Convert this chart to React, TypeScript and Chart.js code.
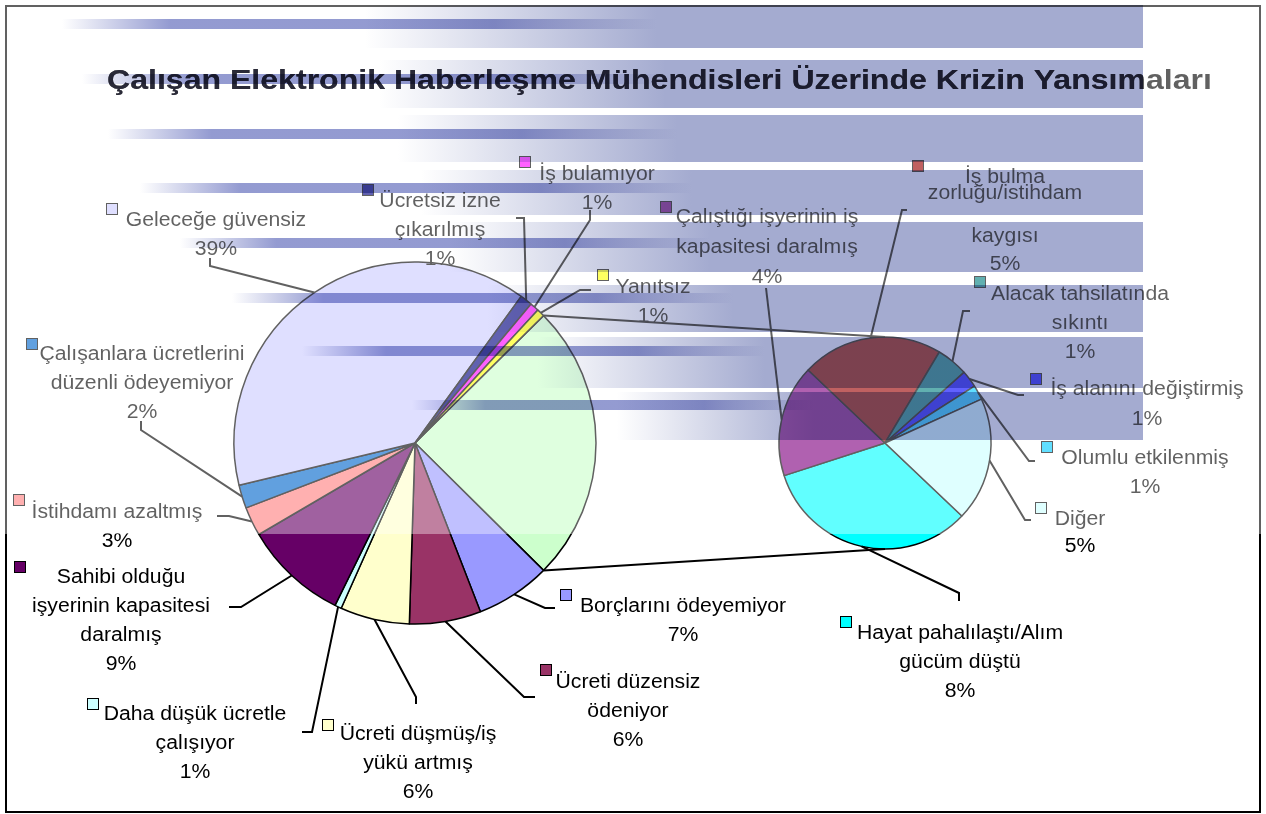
import React, { useEffect, useRef } from "react";
import { Chart, registerables } from "chart.js";

Chart.register(...registerables);

// ---------------- DATA ----------------
const TITLE = "Çalışan Elektronik Haberleşme Mühendisleri Üzerinde Krizin Yansımaları";

// main (left) pie, clockwise after the grouped slice
const mainCategories = [
  "Borçlarını ödeyemiyor",
  "Ücreti düzensiz ödeniyor",
  "Ücreti düşmüş/iş yükü artmış",
  "Daha düşük ücretle çalışıyor",
  "Sahibi olduğu işyerinin kapasitesi daralmış",
  "İstihdamı azaltmış",
  "Çalışanlara ücretlerini düzenli ödeyemiyor",
  "Geleceğe güvensiz",
  "Ücretsiz izne çıkarılmış",
  "İş bulamıyor",
  "Yanıtsız",
];
const mainValues = [6.7, 6.4, 6.2, 0.6, 9.3, 2.6, 2.1, 38.8, 1.1, 0.8, 0.7];

// secondary (right) pie, clockwise
const subCategories = [
  "Hayat pahalılaştı/Alım gücüm düştü",
  "Çalıştığı işyerinin iş kapasitesi daralmış",
  "İş bulma zorluğu/istihdam kaygısı",
  "Alacak tahsilatında sıkıntı",
  "İş alanını değiştirmiş",
  "Olumlu etkilenmiş",
  "Diğer",
];
const subValues = [8.2, 4.25, 5.35, 1.2, 0.65, 0.55, 4.7];

// ---------------- STYLE / LAYOUT ----------------
const groupColor = "#ccffcc";
const mainColors = [
  "#9999ff", "#993366", "#ffffcc", "#ccffff", "#660066", "#ff8080",
  "#0066cc", "#ccccff", "#000080", "#ff00ff", "#ffff00",
];
const subColors = ["#00ffff", "#800080", "#990000", "#008080", "#0000ff", "#00ccff", "#ccffff"];

const W = 1266;
const H = 814;
const BIG = { x: 415, y: 443, r: 181 };
const SMALL = { x: 885, y: 443, r: 106 };
const SMALL_ROTATION = 133.5;
const FONT = "20px 'Liberation Sans', Arial, sans-serif";
const SX = 1.06;
const OVERLAY_Y = 534;
const STRIPE_END = 1143;

type Lay = {
  lines: string[];
  cx: number;
  y0?: number;
  dy?: number;
  ys?: number[];
  key: [number, number];
  leader: [number, number][];
};

const mainLabels: Lay[] = [
  { lines: ["Borçlarını ödeyemiyor"], cx: 683, y0: 612, key: [560, 589], leader: [[545, 608], [555, 608]] },
  { lines: ["Ücreti düzensiz", "ödeniyor"], cx: 628, y0: 688, key: [540, 664], leader: [[524, 697], [535, 697]] },
  { lines: ["Ücreti düşmüş/iş", "yükü artmış"], cx: 418, y0: 740, key: [322, 719], leader: [[416, 697], [416, 704]] },
  { lines: ["Daha düşük ücretle", "çalışıyor"], cx: 195, y0: 720, key: [87, 698], leader: [[312, 732], [302, 732]] },
  { lines: ["Sahibi olduğu", "işyerinin kapasitesi", "daralmış"], cx: 121, y0: 583, key: [14, 561], leader: [[241, 607], [229, 607]] },
  { lines: ["İstihdamı azaltmış"], cx: 117, y0: 518, key: [13, 494], leader: [[229, 516], [217, 516]] },
  { lines: ["Çalışanlara ücretlerini", "düzenli ödeyemiyor"], cx: 142, y0: 360, key: [26, 338], leader: [[141, 430], [141, 421]] },
  { lines: ["Geleceğe güvensiz"], cx: 216, y0: 226, key: [106, 203], leader: [[210, 266], [210, 258]] },
  { lines: ["Ücretsiz izne", "çıkarılmış"], cx: 440, y0: 207, key: [362, 184], leader: [[524, 218], [516, 218]] },
  { lines: ["İş bulamıyor"], cx: 597, y0: 180, key: [519, 156], leader: [[590, 220], [590, 210]] },
  { lines: ["Yanıtsız"], cx: 653, y0: 293, key: [597, 269], leader: [[580, 290], [591, 290]] },
];

const subLabels: Lay[] = [
  { lines: ["Hayat pahalılaştı/Alım", "gücüm düştü"], cx: 960, y0: 639, key: [840, 616], leader: [[959, 593], [959, 601]] },
  { lines: ["Çalıştığı işyerinin iş", "kapasitesi daralmış"], cx: 767, y0: 223, dy: 30, key: [660, 201], leader: [[766, 288]] },
  { lines: ["İş bulma", "zorluğu/istihdam", "kaygısı"], cx: 1005, ys: [183, 199, 242, 270], key: [912, 160], leader: [[902, 210], [907, 210]] },
  { lines: ["Alacak tahsilatında", "sıkıntı"], cx: 1080, y0: 300, key: [974, 276], leader: [[963, 311], [970, 311]] },
  { lines: ["İş alanını değiştirmiş"], cx: 1147, y0: 395, dy: 30, key: [1030, 373], leader: [[1018, 395], [1024, 395]] },
  { lines: ["Olumlu etkilenmiş"], cx: 1145, y0: 464, key: [1041, 441], leader: [[1029, 461], [1035, 461]] },
  { lines: ["Diğer"], cx: 1080, y0: 525, dy: 27, key: [1035, 502], leader: [[1025, 520], [1031, 520]] },
];

// [yTop, yBottom, coreY, xStart]
const STRIPES: [number, number, number, number][] = [
  [5, 48, 24, 62],
  [60, 108, 79, 82],
  [115, 162, 134, 108],
  [170, 215, 188, 140],
  [222, 272, 243, 180],
  [285, 332, 298, 232],
  [337, 388, 351, 302],
  [392, 440, 405, 412],
];

const sum = (a: number[]) => a.reduce((s, v) => s + v, 0);

function drawText(ctx: CanvasRenderingContext2D, s: string, cx: number, y: number) {
  ctx.save();
  ctx.translate(cx, y);
  ctx.scale(SX, 1);
  ctx.font = FONT;
  ctx.textAlign = "center";
  ctx.textBaseline = "alphabetic";
  ctx.fillStyle = "#000";
  ctx.fillText(s, 0, 0);
  ctx.restore();
}

function drawLabel(ctx: CanvasRenderingContext2D, lay: Lay, pct: number, color: string, el: any) {
  const mid = (el.startAngle + el.endAngle) / 2;
  const sx = el.x + Math.cos(mid) * el.outerRadius;
  const sy = el.y + Math.sin(mid) * el.outerRadius;
  ctx.save();
  ctx.strokeStyle = "#000";
  ctx.lineWidth = 2;
  ctx.beginPath();
  ctx.moveTo(sx, sy);
  lay.leader.forEach(([x, y]) => ctx.lineTo(x, y));
  ctx.stroke();
  ctx.restore();

  const lines = [...lay.lines, pct + "%"];
  const dy = lay.dy ?? 29;
  const ys = lay.ys ?? lines.map((_, i) => (lay.y0 as number) + i * dy);
  lines.forEach((s, i) => drawText(ctx, s, lay.cx, ys[i]));

  ctx.save();
  ctx.fillStyle = color;
  ctx.fillRect(lay.key[0], lay.key[1], 11, 11);
  ctx.strokeStyle = "#000";
  ctx.lineWidth = 1;
  ctx.strokeRect(lay.key[0] + 0.5, lay.key[1] + 0.5, 11, 11);
  ctx.restore();
}

function drawTitle(ctx: CanvasRenderingContext2D, color: string) {
  ctx.save();
  ctx.font = "bold 28px 'Liberation Sans', Arial, sans-serif";
  const tw = ctx.measureText(TITLE).width;
  const left = 107, right = 1212;
  ctx.translate((left + right) / 2, 89);
  ctx.scale((right - left) / tw, 1);
  ctx.textAlign = "center";
  ctx.fillStyle = color;
  ctx.fillText(TITLE, 0, 0);
  ctx.restore();
}

const pieOfPie = {
  id: "pieOfPie",
  afterDatasetsUpdate(chart: any) {
    const place = (di: number, c: { x: number; y: number; r: number }) => {
      chart.getDatasetMeta(di).data.forEach((el: any) => {
        el.x = c.x;
        el.y = c.y;
        el.innerRadius = 0;
        el.outerRadius = c.r;
      });
    };
    place(0, BIG);
    place(1, SMALL);
  },
  beforeDraw(chart: any) {
    const ctx = chart.ctx as CanvasRenderingContext2D;
    ctx.save();
    ctx.fillStyle = "#fff";
    ctx.fillRect(0, 0, chart.width, chart.height);
    ctx.restore();
  },
  afterDraw(chart: any) {
    const ctx = chart.ctx as CanvasRenderingContext2D;
    const total = sum(mainValues) + sum(subValues);
    const bigArcs = chart.getDatasetMeta(0).data;
    const smallArcs = chart.getDatasetMeta(1).data;

    // connector lines between grouped slice and secondary pie
    const g: any = bigArcs[0];
    ctx.save();
    ctx.strokeStyle = "#000";
    ctx.lineWidth = 2;
    ctx.beginPath();
    ctx.moveTo(g.x + Math.cos(g.startAngle) * g.outerRadius, g.y + Math.sin(g.startAngle) * g.outerRadius);
    ctx.lineTo(SMALL.x, SMALL.y - SMALL.r);
    ctx.moveTo(g.x + Math.cos(g.endAngle) * g.outerRadius, g.y + Math.sin(g.endAngle) * g.outerRadius);
    ctx.lineTo(SMALL.x, SMALL.y + SMALL.r);
    ctx.stroke();
    ctx.restore();

    mainLabels.forEach((lay, i) => {
      drawLabel(ctx, lay, Math.round((mainValues[i] / total) * 100), mainColors[i], bigArcs[i + 1]);
    });
    subLabels.forEach((lay, i) => {
      drawLabel(ctx, lay, Math.round((subValues[i] / total) * 100), subColors[i], smallArcs[i]);
    });

    drawTitle(ctx, "#000");

    // frame
    ctx.save();
    ctx.strokeStyle = "#000";
    ctx.lineWidth = 2;
    ctx.strokeRect(6, 6, 1254, 806);
    ctx.restore();

    // translucent slide overlay on the upper part
    ctx.save();
    ctx.fillStyle = "rgba(255,255,255,0.38)";
    ctx.fillRect(0, 0, W, OVERLAY_Y);
    ctx.restore();

    // title part lying on the stripe stays dark
    ctx.save();
    ctx.beginPath();
    ctx.rect(0, 0, STRIPE_END, OVERLAY_Y);
    ctx.clip();
    drawTitle(ctx, "#2a2a38");
    ctx.restore();

    // background stripes (multiplied)
    ctx.save();
    ctx.globalCompositeOperation = "multiply";
    STRIPES.forEach(([yt, yb, yc, xs]) => {
      const L = STRIPE_END - xs;
      const band = ctx.createLinearGradient(xs, 0, STRIPE_END, 0);
      band.addColorStop(0, "rgba(164,171,208,0)");
      band.addColorStop(0.28, "rgba(164,171,208,0)");
      band.addColorStop(0.55, "rgba(164,171,208,1)");
      band.addColorStop(1, "rgba(164,171,208,1)");
      ctx.fillStyle = band;
      ctx.fillRect(xs, yt, L, yb - yt);

      const core = ctx.createLinearGradient(xs, 0, STRIPE_END, 0);
      core.addColorStop(0, "rgba(136,144,204,0)");
      core.addColorStop(0.1, "rgba(136,144,204,0.9)");
      core.addColorStop(0.4, "rgba(136,144,204,0.9)");
      core.addColorStop(0.55, "rgba(136,144,204,0)");
      core.addColorStop(1, "rgba(136,144,204,0)");
      ctx.fillStyle = core;
      ctx.fillRect(xs, yc - 5, L, 10);
    });
    ctx.restore();
  },
};

export default function App() {
  const ref = useRef<HTMLCanvasElement>(null);

  useEffect(() => {
    const canvas = ref.current;
    if (!canvas) return;
    const groupValue = sum(subValues);
    const total = sum(mainValues) + groupValue;
    const groupDeg = (groupValue / total) * 360;

    const chart = new Chart(canvas, {
      type: "pie",
      data: {
        labels: ["Diğer (grup)", ...mainCategories],
        datasets: [
          {
            label: "Ana",
            data: [groupValue, ...mainValues],
            backgroundColor: [groupColor, ...mainColors],
            borderColor: "#000",
            borderWidth: 1.5,
            rotation: 90 - groupDeg / 2,
          } as any,
          {
            label: subCategories.join(" | "),
            data: subValues,
            backgroundColor: subColors,
            borderColor: "#000",
            borderWidth: 1.5,
            rotation: SMALL_ROTATION,
          } as any,
        ],
      },
      options: {
        responsive: false,
        maintainAspectRatio: false,
        animation: false,
        devicePixelRatio: 1,
        events: [],
        layout: { padding: 0 },
        plugins: {
          legend: { display: false },
          tooltip: { enabled: false },
          title: { display: false },
        },
      },
      plugins: [pieOfPie],
    });
    return () => chart.destroy();
  }, []);

  return (
    <div style={{ position: "absolute", left: 0, top: 0, width: W, height: H, background: "#fff" }}>
      <canvas ref={ref} width={W} height={H} style={{ display: "block", width: W, height: H }} />
    </div>
  );
}
